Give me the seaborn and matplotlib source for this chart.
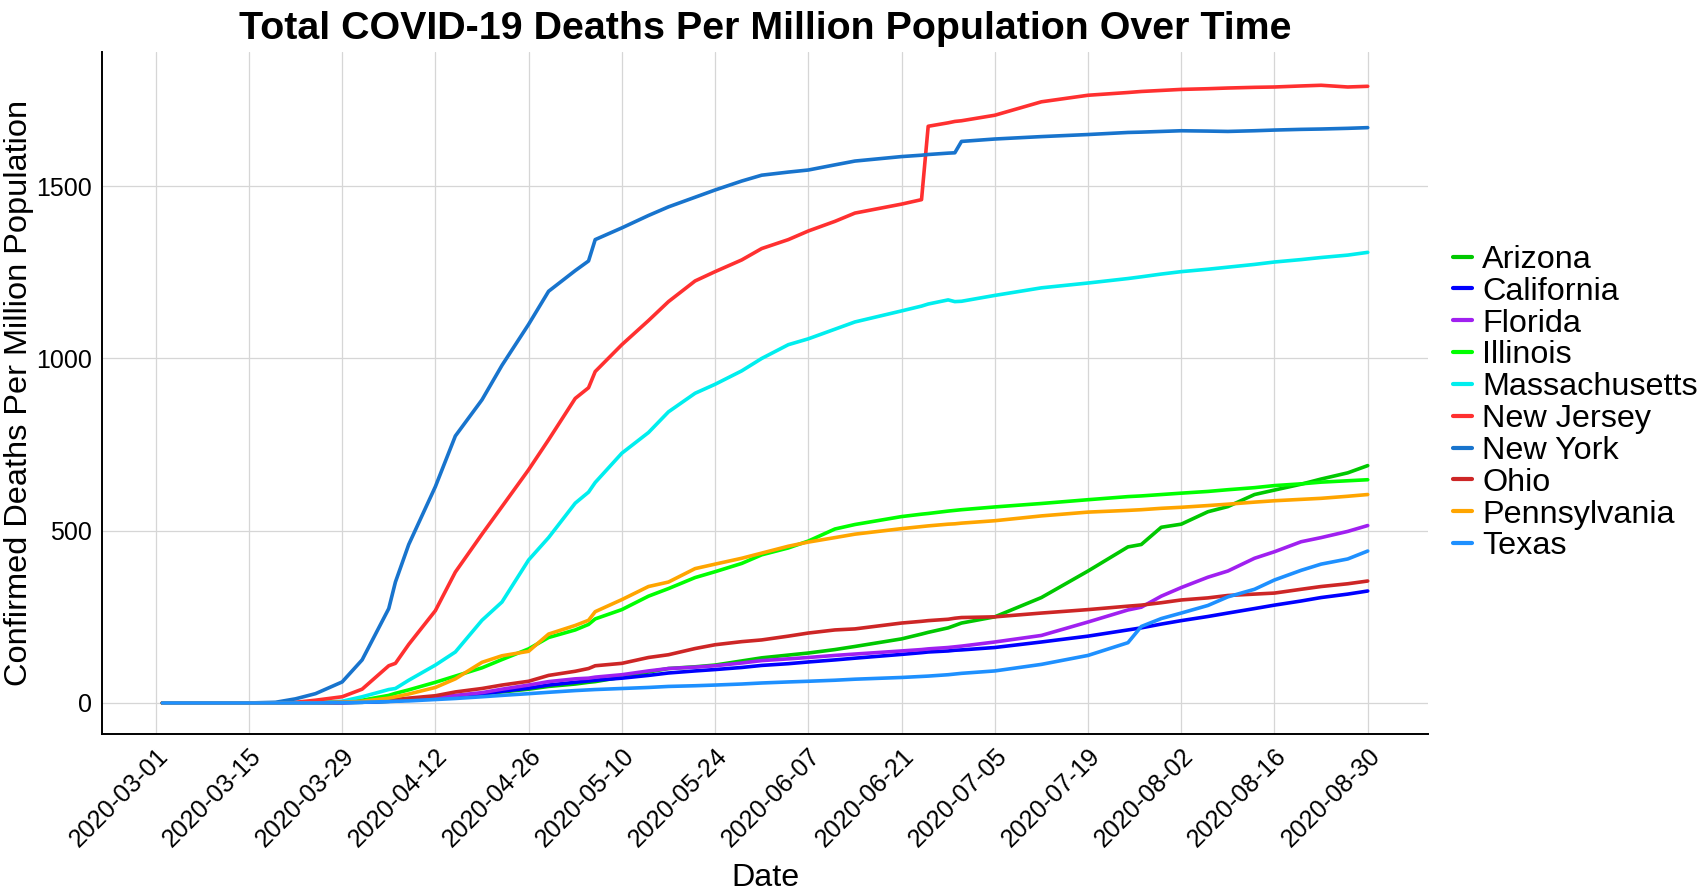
import pandas as pd
import matplotlib.pyplot as plt
import matplotlib.transforms as mtransforms
import seaborn as sns

days = [1, 14, 18, 21, 24, 28, 31, 35, 36, 38, 42, 45, 49, 52, 56, 59, 63, 65, 66, 70,
        74, 77, 81, 84, 88, 91, 95, 98, 102, 105, 112, 115, 116, 119, 120, 121, 126, 133, 140, 146,
        148, 151, 154, 158, 161, 165, 168, 172, 175, 179, 182]

arizona = [0, 0, 0, 0, 0, 1, 2, 5, 6, 9, 14, 19, 26, 32, 40, 48, 55, 60, 62, 75,
           90, 100, 105, 110, 122, 131, 139, 145, 155, 164, 186, 200, 205, 218, 225, 232, 250, 306, 383, 453,
           460, 510, 519, 555, 570, 605, 618, 635, 650, 668, 689]
california = [0, 0, 0, 0, 0, 1, 2, 5, 6, 9, 14, 19, 26, 34, 43, 52, 60, 64, 66, 72,
              80, 87, 93, 97, 103, 109, 114, 119, 125, 130, 141, 146, 148, 151, 153, 154, 161, 177, 194, 212,
              218, 229, 239, 251, 261, 274, 284, 296, 306, 316, 325]
florida = [0, 0, 0, 0, 0, 1, 3, 6, 7, 10, 16, 22, 30, 40, 52, 62, 70, 72, 75, 82,
           93, 100, 104, 108, 116, 123, 128, 132, 138, 142, 151, 155, 157, 161, 163, 165, 177, 196, 235, 270,
           278, 310, 335, 365, 383, 420, 439, 468, 480, 498, 515]
illinois = [0, 0, 0, 0, 1, 3, 8, 22, 28, 38, 60, 78, 102, 126, 157, 190, 212, 228, 244, 271,
            310, 332, 364, 381, 405, 430, 450, 470, 505, 518, 541, 548, 550, 557, 559, 561, 569, 579, 590, 599,
            601, 605, 609, 614, 619, 625, 631, 636, 641, 645, 648]
massachusetts = [0, 0, 0, 0, 1, 5, 18, 39, 42, 66, 110, 148, 240, 293, 415, 480, 580, 612, 640, 725,
                 785, 845, 899, 925, 964, 1000, 1040, 1057, 1085, 1106, 1138, 1152, 1158, 1170, 1165, 1166, 1183, 1205, 1219, 1232,
                 1237, 1245, 1252, 1259, 1265, 1273, 1280, 1287, 1293, 1300, 1308]
new_jersey = [0, 0, 0, 2, 8, 18, 40, 108, 115, 170, 268, 380, 490, 570, 677, 764, 884, 915, 962, 1040,
              1110, 1165, 1225, 1252, 1286, 1319, 1345, 1370, 1398, 1422, 1448, 1461, 1674, 1684, 1688, 1690, 1706, 1745, 1764, 1772,
              1775, 1778, 1781, 1783, 1785, 1787, 1788, 1791, 1793, 1788, 1790]
new_york = [0, 0, 2, 12, 27, 61, 125, 274, 351, 460, 628, 775, 880, 980, 1099, 1195, 1255, 1283, 1345, 1379,
            1415, 1440, 1468, 1489, 1515, 1532, 1541, 1547, 1562, 1573, 1586, 1590, 1592, 1596, 1597, 1630, 1637, 1644, 1650, 1656,
            1657, 1659, 1661, 1660, 1659, 1661, 1663, 1665, 1666, 1668, 1670]
ohio = [0, 0, 0, 0, 0, 2, 4, 8, 10, 14, 21, 32, 42, 52, 63, 80, 92, 100, 108, 115,
        132, 140, 158, 169, 178, 183, 194, 203, 212, 215, 232, 237, 239, 243, 246, 248, 250, 261, 271, 281,
        284, 291, 299, 305, 312, 316, 319, 330, 338, 346, 354]
pennsylvania = [0, 0, 0, 0, 0, 2, 5, 14, 18, 26, 45, 70, 118, 137, 150, 200, 225, 240, 265, 300,
                338, 351, 390, 403, 420, 435, 455, 467, 480, 490, 506, 512, 514, 519, 520, 522, 529, 543, 554, 559,
                561, 565, 568, 573, 577, 583, 587, 591, 594, 600, 605]
texas = [0, 0, 0, 0, 0, 1, 2, 4, 5, 6, 10, 13, 18, 22, 27, 31, 36, 38, 39, 42,
         45, 48, 50, 52, 55, 58, 61, 63, 66, 69, 74, 77, 78, 82, 84, 86, 93, 112, 138, 175,
         222, 245, 261, 283, 308, 330, 357, 385, 403, 418, 441]

states = ["Arizona", "California", "Florida", "Illinois", "Massachusetts",
          "New Jersey", "New York", "Ohio", "Pennsylvania", "Texas"]
series = [arizona, california, florida, illinois, massachusetts,
          new_jersey, new_york, ohio, pennsylvania, texas]
colors = ["#00C800", "#0000FF", "#A020F0", "#00FF00", "#00EEEE",
          "#FF3030", "#1874CD", "#CD2626", "#FFA500", "#1E90FF"]

start = pd.Timestamp("2020-03-01")
dates = start + pd.to_timedelta(days, unit="D")
df = pd.concat([pd.DataFrame({"Date": dates, "State": s, "Deaths": v})
                for s, v in zip(states, series)], ignore_index=True)

sns.set_style("white")
plt.rcParams['font.family'] = ['Liberation Sans', 'DejaVu Sans']
plt.rcParams.update({"text.color": "black", "axes.labelcolor": "black",
                     "xtick.color": "#333333", "ytick.color": "#333333",
                     "xtick.labelcolor": "black", "ytick.labelcolor": "black"})

fig = plt.figure(figsize=(17.01, 8.94), dpi=100)
ax = fig.add_axes([0.06, 0.179, 0.7795, 0.763])
sns.lineplot(data=df, x="Date", y="Deaths", hue="State", hue_order=states,
             palette=dict(zip(states, colors)), linewidth=2.6,
             estimator=None, errorbar=None, ax=ax)

# ggplot-style 5% expansion around the data range
ax.set_xlim(start + pd.Timedelta(days=1 - 9.05), start + pd.Timedelta(days=182 + 9.05))
ax.set_ylim(-90, 1890)
xt = pd.date_range("2020-03-01", "2020-08-30", freq="14D")
ax.set_xticks(xt)
ax.set_xticklabels([d.strftime("%Y-%m-%d") for d in xt], rotation=45,
                   ha="right", va="top", rotation_mode="anchor", fontsize=18)
shift = mtransforms.ScaledTranslation(-0.045, 0.03, fig.dpi_scale_trans)
for lab in ax.get_xticklabels():
    lab.set_transform(lab.get_transform() + shift)
ax.set_yticks([0, 500, 1000, 1500])
ax.tick_params(axis="y", labelsize=18)
ax.tick_params(length=4, width=1, pad=3)
ax.grid(True, color="#D6D6D6", linewidth=0.9)
for s in ["top", "right"]:
    ax.spines[s].set_visible(False)
for s in ["left", "bottom"]:
    ax.spines[s].set_color("black")
    ax.spines[s].set_linewidth(1.4)

ax.set_title("Total COVID-19 Deaths Per Million Population Over Time",
             fontsize=28.4, fontweight="bold", pad=9)
ax.set_xlabel("Date", fontsize=23.2)
ax.xaxis.set_label_coords(0.5, -0.189)
ax.set_ylabel("Confirmed Deaths Per Million Population", fontsize=23.4, labelpad=1.5)

leg = ax.legend(loc="center left", bbox_to_anchor=(1.019, 0.485), frameon=False,
                fontsize=23.3, handlelength=0.57, handletextpad=0.33,
                labelspacing=0.057, borderpad=0, borderaxespad=0)
for line in leg.get_lines():
    line.set_linewidth(3)

fig.savefig("out.png", dpi=100)
